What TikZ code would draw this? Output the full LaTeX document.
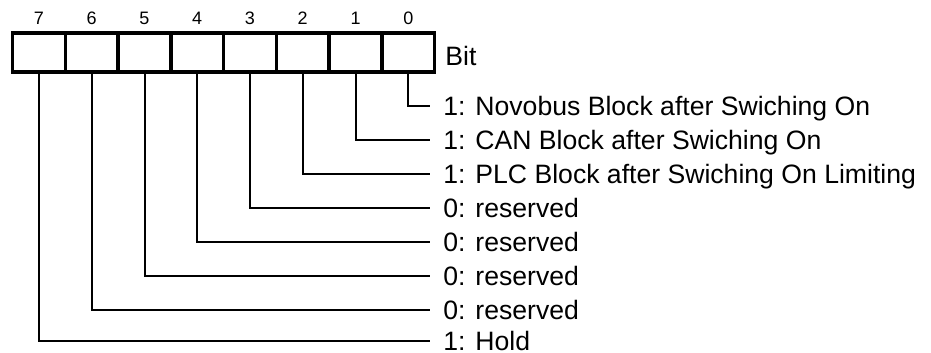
\documentclass[tikz,border=0pt]{standalone}
\usepackage{fontspec}
\setmainfont{Liberation Sans}

\begin{document}
\begin{tikzpicture}[x=0.5pt,y=-0.5pt]
	\tikzset{cell/.style = {shape=rectangle, draw, line width=1.8pt, minimum width=26.375pt, minimum height=19.5pt, inner sep=0pt}}
	\tikzset{num/.style = {font=\fontsize{9pt}{11pt}\selectfont, text height=6.45pt, text depth=0pt, inner sep=0pt}}
	\tikzset{desc/.style = {anchor=west, font=\fontsize{13.3pt}{16pt}\selectfont, text height=9.5pt, text depth=0pt, inner ysep=0pt, inner xsep=6.5pt}}
	\tikzset{lead/.style = {line width=1pt}}
	\useasboundingbox (0,0) rectangle (931,353);
	\node[cell] (b7) at (39, 52.5) {};
	\node[cell] (b6) at (91.75, 52.5) {};
	\node[cell] (b5) at (144.5, 52.5) {};
	\node[cell] (b4) at (197.25, 52.5) {};
	\node[cell] (b3) at (250, 52.5) {};
	\node[cell] (b2) at (302.75, 52.5) {};
	\node[cell] (b1) at (355.5, 52.5) {};
	\node[cell] (b0) at (408.25, 52.5) {};
	\node[num] (n7) at (39, 18.5) {7};
	\node[num] (n6) at (91.75, 18.5) {6};
	\node[num] (n5) at (144.5, 18.5) {5};
	\node[num] (n4) at (197.25, 18.5) {4};
	\node[num] (n3) at (250, 18.5) {3};
	\node[num] (n2) at (302.75, 18.5) {2};
	\node[num] (n1) at (355.5, 18.5) {1};
	\node[num] (n0) at (408.25, 18.5) {0};
	\node[desc, inner xsep=0pt] (bit) at (445, 56) {Bit};
	\node[desc] (l0) at (430, 106) {1: Novobus Block after Swiching On};
	\node[desc] (l1) at (430, 140) {1: CAN Block after Swiching On};
	\node[desc] (l2) at (430, 174) {1: PLC Block after Swiching On Limiting};
	\node[desc] (l3) at (430, 208) {0: reserved};
	\node[desc] (l4) at (430, 242) {0: reserved};
	\node[desc] (l5) at (430, 276) {0: reserved};
	\node[desc] (l6) at (430, 310) {0: reserved};
	\node[desc] (l7) at (430, 341) {1: Hold};
	\draw[lead] (b0.south) |- (l0.west);
	\draw[lead] (b1.south) |- (l1.west);
	\draw[lead] (b2.south) |- (l2.west);
	\draw[lead] (b3.south) |- (l3.west);
	\draw[lead] (b4.south) |- (l4.west);
	\draw[lead] (b5.south) |- (l5.west);
	\draw[lead] (b6.south) |- (l6.west);
	\draw[lead] (b7.south) |- (l7.west);
\end{tikzpicture}
\end{document}
